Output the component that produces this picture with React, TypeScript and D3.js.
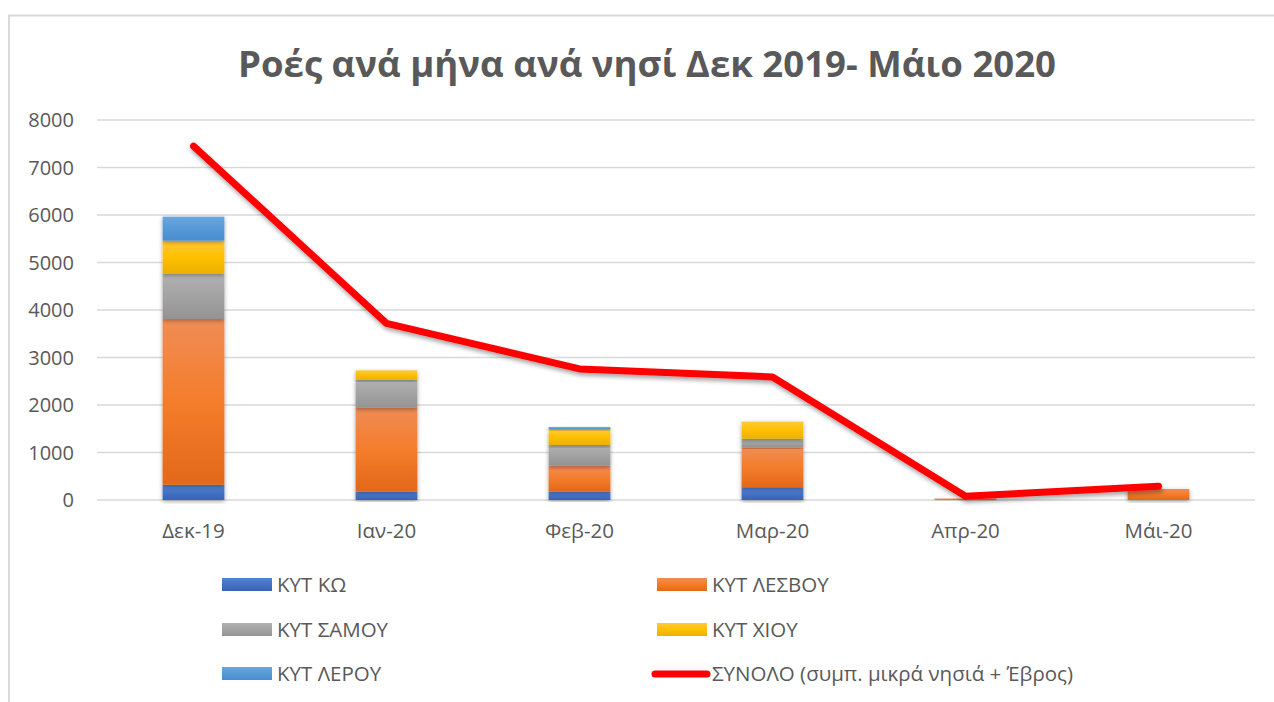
import React from 'react';
import * as d3 from 'd3';

const categories = ['Δεκ-19', 'Ιαν-20', 'Φεβ-20', 'Μαρ-20', 'Απρ-20', 'Μάι-20'];
const kos = [320, 180, 180, 270, 0, 0];
const lesvos = [3490, 1760, 540, 840, 30, 232];
const samos = [960, 590, 440, 180, 0, 0];
const chios = [690, 200, 320, 360, 0, 0];
const leros = [505, 0, 55, 0, 0, 0];
const total = [7450, 3720, 2760, 2590, 80, 290];
const yTicks = [0, 1000, 2000, 3000, 4000, 5000, 6000, 7000, 8000];

const seriesNames = ['ΚΥΤ ΚΩ', 'ΚΥΤ ΛΕΣΒΟΥ', 'ΚΥΤ ΣΑΜΟΥ', 'ΚΥΤ ΧΙΟΥ', 'ΚΥΤ ΛΕΡΟΥ'];
const lineName = 'ΣΥΝΟΛΟ (συμπ. μικρά νησιά + Έβρος)';
const title = 'Ροές ανά μήνα ανά νησί Δεκ 2019- Μάιο 2020';

const palettes = [
  ['#5583d4', '#4472c4', '#3762b6'],
  ['#f08c56', '#f47d2b', '#e2681a'],
  ['#b1b1b1', '#a3a3a3', '#939393'],
  ['#ffc93a', '#ffc000', '#ecb000'],
  ['#6aa7df', '#5599d6', '#4a8cd0'],
];

const FONT = "'Open Sans', 'Noto Sans', sans-serif";
const TEXT = '#595959';

export default function App() {
  const W = 1274, H = 702;
  const left = 97, right = 1255, top = 120, bottom = 500;
  const x = d3.scaleBand<string>().domain(categories).range([left, right]).paddingInner(0.68).paddingOuter(0.34);
  const y = d3.scaleLinear().domain([0, 8000]).range([bottom, top]);

  const rows = categories.map((c, i) => ({ c, kos: kos[i], lesvos: lesvos[i], samos: samos[i], chios: chios[i], leros: leros[i] }));
  const keys = ['kos', 'lesvos', 'samos', 'chios', 'leros'];
  const stacked = d3.stack<any>().keys(keys)(rows);

  const cx = (c: string) => (x(c) as number) + x.bandwidth() / 2;
  const line = d3.line<number>().x((_, i) => cx(categories[i])).y(v => y(v));

  const legendItems = [
    { kind: 'bar', idx: 0, lx: 222, ly: 585 },
    { kind: 'bar', idx: 1, lx: 657, ly: 585 },
    { kind: 'bar', idx: 2, lx: 222, ly: 630 },
    { kind: 'bar', idx: 3, lx: 657, ly: 630 },
    { kind: 'bar', idx: 4, lx: 222, ly: 674 },
    { kind: 'line', idx: 5, lx: 657, ly: 674 },
  ];

  return (
    <svg width={W} height={H} style={{ position: 'absolute', left: 0, top: 0, background: '#fff' }} fontFamily={FONT}>
      <defs>
        {palettes.map((p, i) => (
          <linearGradient key={i} id={`g${i}`} x1="0" y1="0" x2="0" y2="1">
            <stop offset="0" stopColor={p[0]} />
            <stop offset="0.5" stopColor={p[1]} />
            <stop offset="1" stopColor={p[2]} />
          </linearGradient>
        ))}
        <filter id="sh" x="-20%" y="-20%" width="140%" height="140%">
          <feDropShadow dx="0" dy="1.5" stdDeviation="2" floodColor="#000" floodOpacity="0.35" />
        </filter>
        <filter id="lsh" x="-10%" y="-10%" width="120%" height="130%">
          <feDropShadow dx="1" dy="3" stdDeviation="2" floodColor="#000" floodOpacity="0.35" />
        </filter>
      </defs>
      <rect x={0} y={0} width={W} height={H} fill="#fff" />
      <rect x={9} y={15.5} width={W + 20} height={H + 20} fill="none" stroke="#d9d9d9" strokeWidth={2} />

      <text x={647} y={77} textAnchor="middle" fontSize={35} fontWeight={700} fill={TEXT} textLength={818} lengthAdjust="spacingAndGlyphs">{title}</text>

      {yTicks.map(t => (
        <g key={t}>
          <line x1={left} x2={right} y1={y(t)} y2={y(t)} stroke="#d9d9d9" strokeWidth={1.5} />
          <text x={74} y={y(t) + 7} textAnchor="end" fontSize={20} fill={TEXT}>{t}</text>
        </g>
      ))}

      {stacked.map((s, si) => (
        <g key={si}>
          {s.map((d, i) => {
            const h = y(d[0]) - y(d[1]);
            if (h <= 0) return null;
            return (
              <rect key={i} x={x(categories[i])} y={y(d[1])} width={x.bandwidth()} height={Math.max(h, 1.5)} fill={`url(#g${si})`} filter="url(#sh)" />
            );
          })}
        </g>
      ))}

      {categories.map(c => (
        <text key={c} x={cx(c)} y={538} textAnchor="middle" fontSize={20.5} fill={TEXT}>{c}</text>
      ))}

      <path d={line(total) as string} fill="none" stroke="#ff0000" strokeWidth={7} strokeLinecap="round" strokeLinejoin="round" filter="url(#lsh)" />

      {legendItems.map((it, k) => (
        <g key={k}>
          {it.kind === 'bar' ? (
            <rect x={it.lx} y={it.ly - 7} width={50} height={13} fill={`url(#g${it.idx})`} />
          ) : (
            <line x1={it.lx - 2} x2={it.lx + 50} y1={it.ly} y2={it.ly} stroke="#ff0000" strokeWidth={7} strokeLinecap="round" />
          )}
          <text x={it.lx + 55} y={it.ly + 7} fontSize={20.5} fill={TEXT}>{it.kind === 'bar' ? seriesNames[it.idx] : lineName}</text>
        </g>
      ))}
    </svg>
  );
}
